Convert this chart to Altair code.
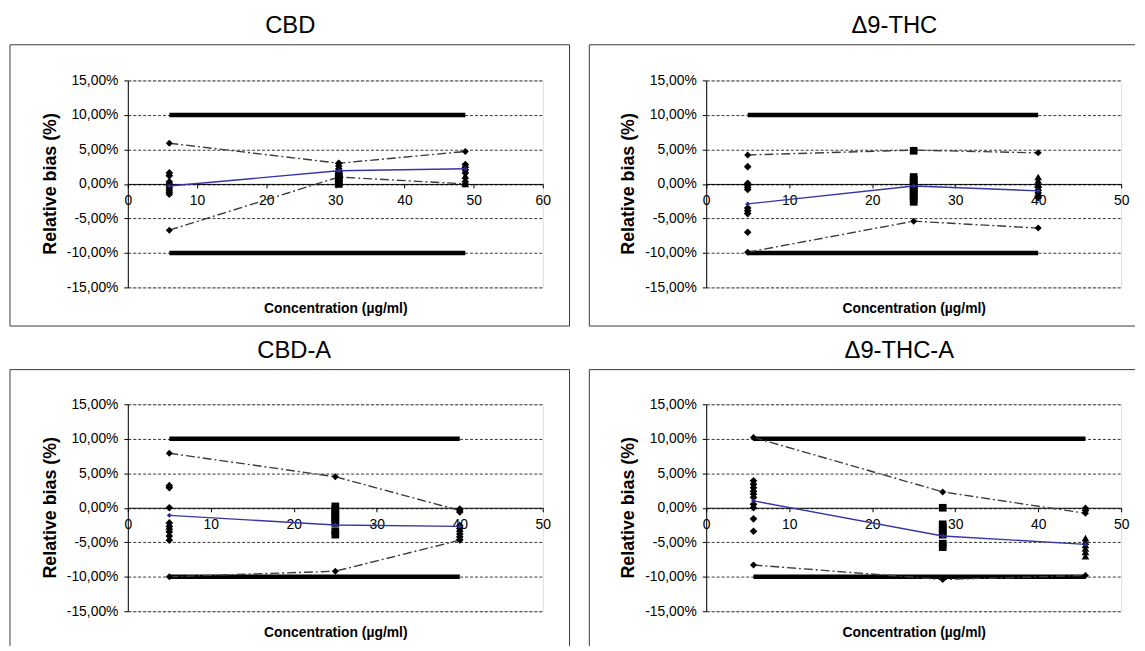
import altair as alt
import pandas as pd

FONT = "Liberation Sans"

# ---------------- data (relative bias in %) ----------------
titles = ["CBD", "Δ9-THC", "CBD-A", "Δ9-THC-A"]
x_maxima = [60, 50, 50, 50]
limit = 10.0
y_title = "Relative bias (%)"
x_title = "Concentration (µg/ml)"

cbd_levels = [6.0, 30.5, 48.8]
cbd_mean = [-0.3, 1.9, 2.2]
cbd_upper = [5.9, 3.0, 4.7]
cbd_lower = [-6.7, 1.0, 0.0]
cbd_diamonds = {6.0: [1.6, 1.2, 0.3, 0.0, -0.3, -0.6, -0.9, -1.2, -1.5],
                30.5: [3.0, 2.6, 2.2, 1.8],
                48.8: [2.8, 2.4, 2.0, 1.6]}
cbd_squares = {30.5: [1.4, 1.0, 0.3, 0.0]}
cbd_triangles = {48.8: [1.2, 0.7, 0.3, 0.0]}

thc_levels = [5.0, 25.0, 40.0]
thc_mean = [-2.9, -0.3, -1.0]
thc_upper = [4.2, 4.9, 4.5]
thc_lower = [-9.9, -5.4, -6.4]
thc_diamonds = {5.0: [2.5, 0.1, -0.2, -0.5, -0.8, -3.5, -3.9, -4.3, -7.0],
                40.0: [-0.5, -0.9, -1.3, -1.7, -2.0]}
thc_squares = {25.0: [4.8, 1.0, 0.6, 0.2, -0.2, -0.6, -1.0, -1.4, -1.8, -2.2, -2.6]}
thc_triangles = {40.0: [1.0, 0.5, 0.0]}

cbda_levels = [5.0, 25.0, 40.0]
cbda_mean = [-1.1, -2.5, -2.7]
cbda_upper = [7.9, 4.5, -0.4]
cbda_lower = [-10.0, -9.2, -4.7]
cbda_diamonds = {5.0: [3.2, 2.9, 0.0, -2.2, -2.7, -3.1, -3.5, -4.1, -4.7],
                 40.0: [-0.2, -0.6, -2.6, -3.0, -3.4, -3.8, -4.2, -4.6]}
cbda_squares = {25.0: [0.2, -0.2, -0.6, -1.0, -1.4, -1.8, -2.2, -3.4, -3.9]}
cbda_triangles = {}

thca_levels = [5.7, 28.5, 45.7]
thca_mean = [1.0, -4.1, -5.3]
thca_upper = [10.2, 2.3, -0.8]
thca_lower = [-8.3, -10.4, -9.8]
thca_diamonds = {5.7: [3.9, 3.4, 2.9, 2.4, 2.0, 1.5, 0.5, 0.0, -1.6, -3.4],
                 45.7: [-0.1, -0.4]}
thca_squares = {28.5: [0.0, -2.4, -2.9, -3.4, -3.9, -5.2, -5.7]}
thca_triangles = {45.7: [-4.4, -4.9, -5.4, -5.9, -6.4, -7.0]}

y_ticks = [-15, -10, -5, 0, 5, 10, 15]

# ---------------- layout (pixels relative to each plot area) ----------------
W, H = 419, 209
geometry = [
    dict(cell=(-120, 448, -69, 255), title_x=164, title_y=-54.5,
         edges=[(-119, 446, -36, -36), (-119, -119, -36, 248), (446, 446, -36, 248), (-119, 446, 248, 248)]),
    dict(cell=(-134, 434, -69, 255), title_x=190, title_y=-54.5,
         edges=[(-118, 433, -36, -36), (-118, -118, -36, 248), (-118, 433, 248, 248)]),
    dict(cell=(-120, 448, -70, 245), title_x=168, title_y=-54,
         edges=[(-119, 446, -35, -35), (-119, -119, -35, 244), (446, 446, -35, 244)]),
    dict(cell=(-134, 434, -70, 245), title_x=195, title_y=-54,
         edges=[(-118, 433, -35, -35), (-118, -118, -35, 244)]),
]

LABEL_EXPR = "(datum.value < 0 ? '-' : '') + replace(format(abs(datum.value), '.2f'), '.', ',') + '%'"


def points_frame(groups, shape):
    rows = []
    for xv, vals in groups.items():
        for v in vals:
            rows.append({"x": xv, "y": v, "shape": shape})
    return rows


def panel(title, xmax, levels, mean, upper, lower, diamonds, squares, triangles, geo):
    x_enc = alt.X("x:Q", scale=alt.Scale(domain=[0, xmax], nice=False),
                  axis=alt.Axis(values=list(range(0, xmax + 1, 10)), offset=-H / 2, grid=False,
                                domainColor="black", tickColor="black", tickSize=4,
                                labelPadding=6, labelFontSize=14, labelColor="black",
                                labelFlush=False,
                                title=x_title, titleFontSize=14,
                                titleFontWeight="bold", titleColor="black",
                                titleY=126, titleBaseline="middle"))
    y_enc = alt.Y("y:Q", scale=alt.Scale(domain=[-15, 15], nice=False),
                  axis=alt.Axis(values=y_ticks, labelExpr=LABEL_EXPR, grid=True,
                                gridDash=[3, 2], gridColor="black", gridWidth=0.8,
                                domainColor="black", tickColor="black", tickSize=4,
                                labelPadding=6, labelFontSize=14, labelColor="black",
                                title=None))

    one = pd.DataFrame({"t": [title], "yt": [y_title]})
    cx1, cx2, cy1, cy2 = geo["cell"]
    layers = [
        alt.Chart(one).mark_rect(opacity=0).encode(
            x=alt.value(cx1), x2=alt.value(cx2), y=alt.value(cy1), y2=alt.value(cy2)),
    ]
    for (ex1, ex2, ey1, ey2) in geo["edges"]:
        layers.append(alt.Chart(one).mark_rule(color="#3a3a3a", strokeWidth=1).encode(
            x=alt.value(ex1), x2=alt.value(ex2), y=alt.value(ey1), y2=alt.value(ey2)))
    layers.append(alt.Chart(one).mark_text(font=FONT, fontSize=24, color="black",
                                           align="center", baseline="middle").encode(
        x=alt.value(geo["title_x"]), y=alt.value(geo["title_y"]), text="t:N"))
    layers.append(alt.Chart(one).mark_text(font=FONT, fontSize=18, fontWeight="bold", color="black",
                                           angle=270, align="center", baseline="middle").encode(
        x=alt.value(-78), y=alt.value(H / 2), text="yt:N"))

    lim = pd.DataFrame({"x": [levels[0], levels[-1], levels[0], levels[-1]],
                        "y": [limit, limit, -limit, -limit],
                        "s": ["hi", "hi", "lo", "lo"]})
    band = pd.DataFrame({"x": levels + levels, "y": upper + lower,
                         "s": ["up"] * len(levels) + ["low"] * len(levels)})
    mean_df = pd.DataFrame({"x": levels, "y": mean})
    pts = pd.DataFrame(points_frame(diamonds, "diamond") + points_frame(squares, "square")
                       + points_frame(triangles, "triangle"))

    layers += [
        alt.Chart(lim).mark_line(color="black", strokeWidth=4.5, strokeCap="butt").encode(
            x=x_enc, y=y_enc, detail="s:N"),
        alt.Chart(band).mark_line(color="#3c3c3c", strokeWidth=1.4, strokeDash=[9, 3, 2, 3]).encode(
            x=x_enc, y=y_enc, detail="s:N"),
        alt.Chart(band).mark_point(shape="diamond", filled=True, color="black", opacity=1, size=50).encode(
            x=x_enc, y=y_enc),
        alt.Chart(pts).mark_point(filled=True, color="black", opacity=1, size=60).encode(
            x=x_enc, y=y_enc,
            shape=alt.Shape("shape:N", legend=None,
                            scale=alt.Scale(domain=["diamond", "square", "triangle"],
                                            range=["diamond", "square", "triangle-up"]))),
        alt.Chart(mean_df).mark_line(color="#3535a5", strokeWidth=1.4).encode(x=x_enc, y=y_enc),
        alt.Chart(mean_df).mark_point(shape="diamond", filled=True, color="#2a2a90", opacity=1, size=25).encode(
            x=x_enc, y=y_enc),
    ]
    return alt.layer(*layers).properties(width=W, height=H)


p1 = panel(titles[0], x_maxima[0], cbd_levels, cbd_mean, cbd_upper, cbd_lower,
           cbd_diamonds, cbd_squares, cbd_triangles, geometry[0])
p2 = panel(titles[1], x_maxima[1], thc_levels, thc_mean, thc_upper, thc_lower,
           thc_diamonds, thc_squares, thc_triangles, geometry[1])
p3 = panel(titles[2], x_maxima[2], cbda_levels, cbda_mean, cbda_upper, cbda_lower,
           cbda_diamonds, cbda_squares, cbda_triangles, geometry[2])
p4 = panel(titles[3], x_maxima[3], thca_levels, thca_mean, thca_upper, thca_lower,
           thca_diamonds, thca_squares, thca_triangles, geometry[3])

chart = alt.vconcat(
    alt.hconcat(p1, p2, spacing=0),
    alt.hconcat(p3, p4, spacing=0),
    spacing=0,
).properties(
    padding={"left": 0, "top": 0, "right": 0, "bottom": 0}
).configure_view(
    strokeWidth=0
).configure_axis(
    labelFont=FONT, titleFont=FONT
).configure(background="white")

chart.save("out.html", embed_options={"renderer": "svg", "actions": False})
